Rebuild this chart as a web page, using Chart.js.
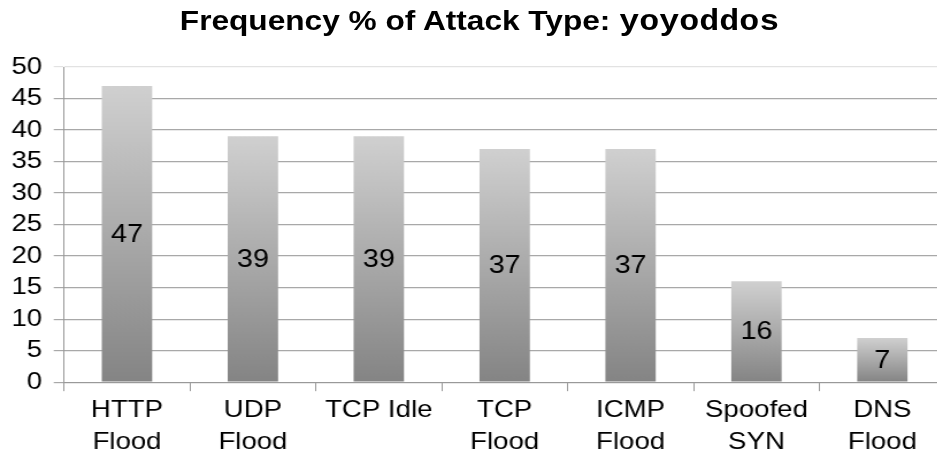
<!DOCTYPE html>
<html>
<head>
<meta charset="utf-8">
<script src="https://cdn.jsdelivr.net/npm/chart.js@4"></script>
<style>
  html, body { margin: 0; padding: 0; background: #fff; overflow: hidden; }
  #frame { width: 937px; height: 461px; overflow: hidden; }
  /* the reference picture is stretched sideways, so draw narrow and stretch */
  #wrap { position: relative; width: 822px; height: 461px; transform: scaleX(1.15); transform-origin: 0 0; }
  #title {
    position: absolute; left: 0; top: 5px; width: 822px; text-align: center; padding-left: 6px;
    font-family: "Liberation Sans", Arial, sans-serif; font-weight: bold; font-size: 27.5px; color: #000;
  }
  #title span { font-family: "Liberation Mono", "Courier New", monospace; font-weight: bold; font-size: 29px; }
</style>
</head>
<body>
<div id="frame">
<div id="wrap">
  <div id="title">Frequency % of Attack Type: <span>yoyoddos</span></div>
  <canvas id="chart" width="822" height="461"></canvas>
</div>
</div>
<script>
const categories = [
    ['HTTP', 'Flood'],
    ['UDP', 'Flood'],
    'TCP Idle',
    ['TCP', 'Flood'],
    ['ICMP', 'Flood'],
    ['Spoofed', 'SYN'],
    ['DNS', 'Flood']
];
const frequency = [47, 39, 39, 37, 37, 16, 7];
const yTicks = [0, 5, 10, 15, 20, 25, 30, 35, 40, 45, 50];

// gradient per bar, light at the top, dark at the bottom
function barGradient(context) {
    const chart = context.chart;
    const area = chart.chartArea;
    if (!area || context.raw == null) return '#aaa';
    const yScale = chart.scales.y;
    const top = yScale.getPixelForValue(context.raw);
    const bottom = yScale.getPixelForValue(0);
    const g = chart.ctx.createLinearGradient(0, top, 0, bottom);
    g.addColorStop(0, '#d0d0d0');
    g.addColorStop(1, '#848484');
    return g;
}

// value label in the middle of each bar
const midLabels = {
    id: 'midLabels',
    afterDatasetsDraw(chart) {
        const ctx = chart.ctx;
        const meta = chart.getDatasetMeta(0);
        ctx.save();
        ctx.font = '25px "Liberation Sans", Arial, sans-serif';
        ctx.fillStyle = '#000';
        ctx.textAlign = 'center';
        ctx.textBaseline = 'middle';
        meta.data.forEach(function (bar, i) {
            ctx.fillText(String(frequency[i]), bar.x, (bar.y + bar.base) / 2 + 1);
        });
        ctx.restore();
    }
};

new Chart(document.getElementById('chart'), {
    type: 'bar',
    data: {
        labels: categories,
        datasets: [{
            data: frequency,
            backgroundColor: barGradient,
            borderWidth: 0,
            barPercentage: 0.4,
            categoryPercentage: 1.0
        }]
    },
    options: {
        responsive: false,
        animation: false,
        events: [],
        layout: { padding: { top: 67, right: 0, left: 0, bottom: 0 } },
        plugins: {
            legend: { display: false },
            tooltip: { enabled: false }
        },
        scales: {
            x: {
                grid: {
                    offset: true,
                    drawOnChartArea: false,
                    color: '#999',
                    tickLength: 9
                },
                border: { color: '#999', width: 1 },
                ticks: {
                    color: '#000',
                    maxRotation: 0,
                    autoSkip: false,
                    padding: 3,
                    font: { family: '"Liberation Sans", Arial, sans-serif', size: 24, lineHeight: 1.33 }
                }
            },
            y: {
                min: 0,
                max: 50,
                afterBuildTicks: function (axis) {
                    axis.ticks = yTicks.map(function (v) { return { value: v }; });
                },
                grid: {
                    color: function (c) { return (c.tick && c.tick.value === 50) ? '#e2e2e2' : '#a8a8a8'; },
                    lineWidth: 1.2,
                    tickLength: 9
                },
                border: { color: '#999', width: 1 },
                ticks: {
                    color: '#000',
                    autoSkip: false,
                    padding: 10,
                    font: { family: '"Liberation Sans", Arial, sans-serif', size: 24 }
                }
            }
        }
    },
    plugins: [midLabels]
});
</script>
</body>
</html>
